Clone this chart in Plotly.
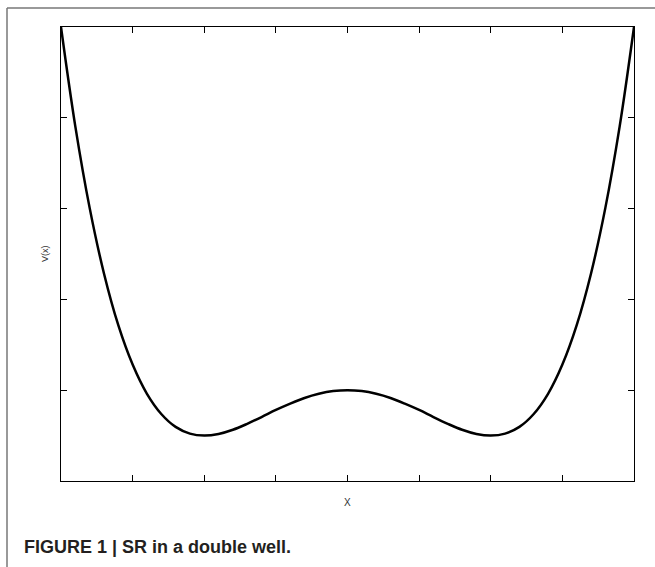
import plotly.graph_objects as go

# Values (double-well potential)
x_vals = [-2.0, -1.9, -1.8, -1.7, -1.6, -1.5, -1.4, -1.3, -1.2, -1.1, -1.0,
          -0.9, -0.8, -0.7, -0.6, -0.5, -0.4, -0.3, -0.2, -0.1, 0.0,
          0.1, 0.2, 0.3, 0.4, 0.5, 0.6, 0.7, 0.8, 0.9, 1.0,
          1.1, 1.2, 1.3, 1.4, 1.5, 1.6, 1.7, 1.8, 1.9, 2.0]
v_vals = [2.0, 1.453, 1.004, 0.643, 0.358, 0.141, -0.020, -0.131, -0.202, -0.239, -0.250,
          -0.241, -0.218, -0.185, -0.148, -0.109, -0.074, -0.043, -0.020, -0.005, 0.0,
          -0.005, -0.020, -0.043, -0.074, -0.109, -0.148, -0.185, -0.218, -0.241, -0.250,
          -0.239, -0.202, -0.131, -0.020, 0.141, 0.358, 0.643, 1.004, 1.453, 2.0]
x_ticks = [-2.0, -1.5, -1.0, -0.5, 0.0, 0.5, 1.0, 1.5, 2.0]
y_ticks = [-0.5, 0.0, 0.5, 1.0, 1.5, 2.0]

x_label = "X"
y_label = "V(x)"
caption = "FIGURE 1 | SR in a double well."

fig = go.Figure()
fig.add_trace(go.Scatter(x=x_vals, y=v_vals, mode="lines",
                         line=dict(color="black", width=2.5, shape="spline"),
                         cliponaxis=False, showlegend=False, hoverinfo="skip"))

axis_common = dict(showgrid=False, zeroline=False, showline=True, linecolor="black",
                   linewidth=1, mirror="ticks", ticks="inside", ticklen=6,
                   tickcolor="black", showticklabels=False)
fig.update_xaxes(range=[-2, 2], tickvals=x_ticks, **axis_common)
fig.update_yaxes(range=[-0.5, 2], tickvals=y_ticks, **axis_common)

fig.update_layout(
    width=655, height=567,
    margin=dict(l=61, r=21, t=27, b=86),
    paper_bgcolor="white", plot_bgcolor="white",
    font=dict(family="Liberation Sans, Arial, sans-serif"),
)

# axis titles as annotations for exact placement
fig.add_annotation(xref="paper", yref="paper", x=0.5, y=-0.03, yanchor="top",
                   text=x_label, showarrow=False, font=dict(size=10, color="#333"))
fig.add_annotation(xref="paper", yref="paper", x=-0.04, y=0.5, textangle=-90,
                   text=y_label, showarrow=False, font=dict(size=9, color="#333"))

# caption
fig.add_annotation(xref="paper", yref="paper", x=(22 - 61) / 573, xanchor="left",
                   y=-(547 - 481) / 454, yanchor="middle",
                   text="<b>" + caption + "</b>", showarrow=False,
                   font=dict(size=18, color="#231f20", family="Liberation Sans, Arial, sans-serif"))

# outer frame lines (top and left, gray)
fig.add_shape(type="line", xref="paper", yref="paper",
              x0=-54/573, x1=594/573, y0=(481 - 8) / 454, y1=(481 - 8) / 454,
              line=dict(color="#777", width=1.5))
fig.add_shape(type="line", xref="paper", yref="paper",
              x0=-54/573, x1=-54/573, y0=(481 - 8) / 454, y1=-86/454,
              line=dict(color="#777", width=1.5))

fig.write_html("out.html")
